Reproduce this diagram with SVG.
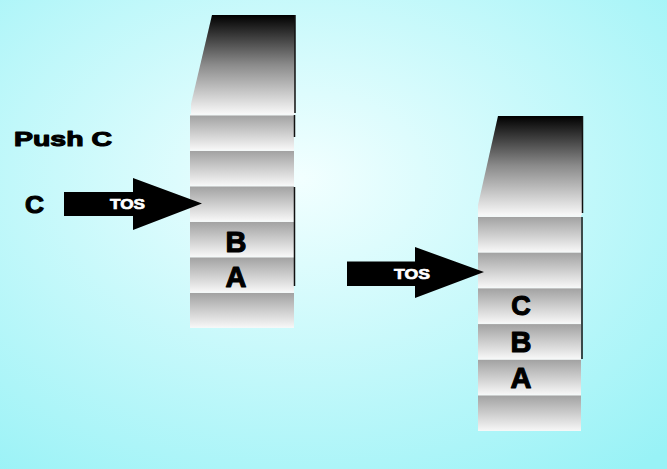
<svg xmlns="http://www.w3.org/2000/svg" width="667" height="469" viewBox="0 0 667 469">
<defs>
<radialGradient id="bg" cx="0.45" cy="0.38" r="0.8">
<stop offset="0" stop-color="#f2ffff"/>
<stop offset="1" stop-color="#98f2f6"/>
</radialGradient>
<linearGradient id="top" x1="0" y1="0" x2="0" y2="1">
<stop offset="0" stop-color="#000000"/>
<stop offset="0.5" stop-color="#8a8a8a"/>
<stop offset="1" stop-color="#f8f8f8"/>
</linearGradient>
<linearGradient id="cell" x1="0" y1="0" x2="0" y2="1">
<stop offset="0" stop-color="#a2a2a2"/>
<stop offset="1" stop-color="#f6f6f6"/>
</linearGradient>
<style>
.cell{fill:url(#cell)}
.cap{fill:url(#top)}
.back{fill:#f4f8f8}
.edge{stroke:#111;stroke-width:1.5;fill:none}
.lbl{font-family:"Liberation Sans",Arial,sans-serif;font-weight:bold;fill:#000;stroke:#000;stroke-width:1.1;stroke-linejoin:round}
.tos{font-family:"Liberation Sans",Arial,sans-serif;font-weight:bold;fill:#fff;stroke:#fff;stroke-width:0.7;font-size:15px}
.arrow{fill:#000}
</style>
</defs>
<rect width="667" height="469" fill="url(#bg)"/>
<text class="lbl" x="14" y="146" font-size="21" textLength="98" lengthAdjust="spacingAndGlyphs">Push C</text>
<text class="lbl" x="25" y="213" font-size="24" textLength="19" lengthAdjust="spacingAndGlyphs">C</text>
<g id="stack1">
<polygon class="cap" points="212,15 295,15 295,114 191,114 191,104"/>
<rect class="back" x="190" y="114" width="104" height="214"/>
<rect class="cell" x="190" y="115.5" width="104" height="34"/>
<rect class="cell" x="190" y="151" width="104" height="34"/>
<rect class="cell" x="190" y="186.5" width="104" height="34"/>
<rect class="cell" x="190" y="222" width="104" height="34"/>
<rect class="cell" x="190" y="257.5" width="104" height="34"/>
<rect class="cell" x="190" y="293" width="104" height="34"/>
<path class="edge" d="M295,15 V113 M294.5,115 V137 M294.5,187 V286"/>
<text class="lbl" x="236" y="252" font-size="29" text-anchor="middle">B</text>
<text class="lbl" x="236" y="287" font-size="29" text-anchor="middle">A</text>
</g>
<g id="stack2">
<polygon class="cap" points="498,116 582,116 582,215 478,215 478,205"/>
<rect class="back" x="478" y="215" width="103" height="216"/>
<rect class="cell" x="478" y="217" width="103" height="34.3"/>
<rect class="cell" x="478" y="252.7" width="103" height="34.3"/>
<rect class="cell" x="478" y="288.4" width="103" height="34.3"/>
<rect class="cell" x="478" y="324.1" width="103" height="34.3"/>
<rect class="cell" x="478" y="359.8" width="103" height="34.3"/>
<rect class="cell" x="478" y="395.5" width="103" height="35"/>
<path class="edge" d="M582.5,116 V213 M582,217 V359"/>
<text class="lbl" x="521" y="315" font-size="27" text-anchor="middle">C</text>
<text class="lbl" x="521" y="352" font-size="29" text-anchor="middle">B</text>
<text class="lbl" x="521" y="388" font-size="29" text-anchor="middle">A</text>
</g>
<g id="connectors">
<g id="arrow1">
<polygon class="arrow" points="64,192 133,192 133,178 202,203.5 133,230 133,216 64,216"/>
<text class="tos" x="110" y="209" textLength="35" lengthAdjust="spacingAndGlyphs">TOS</text>
</g>
<g id="arrow2">
<polygon class="arrow" points="347,261.5 415,261.5 415,247 484,272 415,298 415,286 347,286"/>
<text class="tos" x="394" y="278.5" textLength="36" lengthAdjust="spacingAndGlyphs">TOS</text>
</g>
</g>
</svg>
